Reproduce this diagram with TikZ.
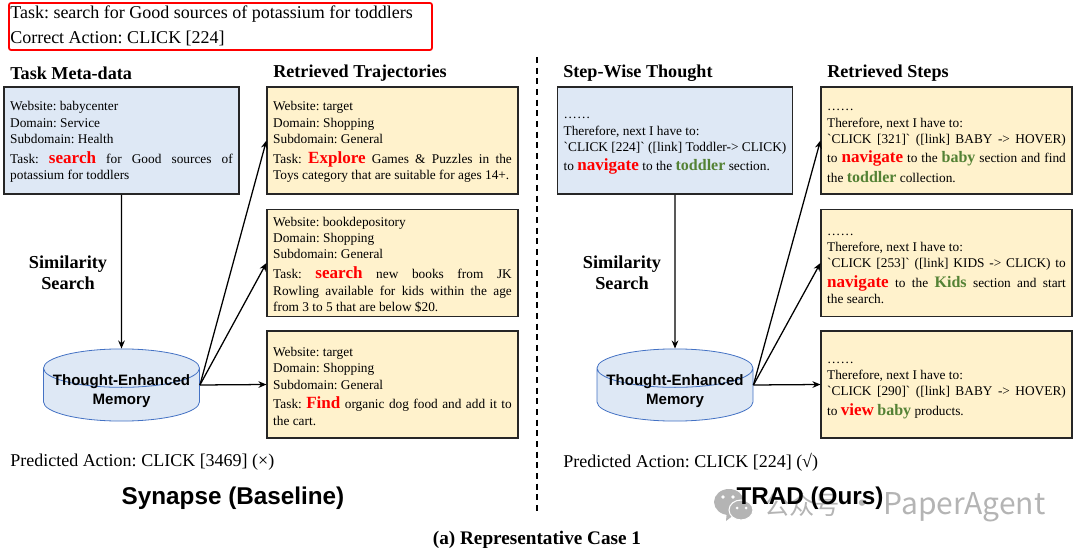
\documentclass[tikz,border=0pt]{standalone}
\usepackage{fontspec}
\setmainfont{Liberation Serif}
\setsansfont{Liberation Sans}
\newfontfamily\cjkwm{Noto Sans CJK SC}
\usetikzlibrary{arrows.meta}
\usetikzlibrary{shapes.geometric}
\definecolor{metablue}{HTML}{DEE8F5}
\definecolor{trajyellow}{HTML}{FFF2CC}
\definecolor{cylblue}{HTML}{4472C4}
\definecolor{leafgreen}{HTML}{548235}
\definecolor{markgrey}{HTML}{B4B4B4}
\frenchspacing
\hyphenpenalty=10000
\exhyphenpenalty=10000
\tolerance=9999
\lineskip=1pt
\newcommand{\redw}[1]{\textcolor{red}{\fontsize{12.8}{12.3}\selectfont\bfseries #1}}
\newcommand{\grw}[1]{\rule{0pt}{11.3pt}\textcolor{leafgreen}{\fontsize{12}{12.3}\selectfont\bfseries #1}}
\newcommand{\bq}{\textasciigrave{}}
\newcommand{\toprow}{\rule{0pt}{9.5pt}}
\newcommand{\cylspan}{\phantom{\fontsize{11.3}{14}\selectfont\sffamily\bfseries Thought-Enhanced}}
\tikzset{
    bodybox/.style={draw=black!85,line width=1.1pt,inner xsep=4.5pt,inner ysep=0pt,align=justify,
        font=\fontsize{10}{12.3}\selectfont},
    metabox/.style={bodybox,fill=metablue,text width=167pt,minimum height=80.5pt},
    trajbox/.style={bodybox,fill=trajyellow,text width=179pt,minimum height=80.5pt},
    stepbox/.style={bodybox,fill=trajyellow,text width=179pt,minimum height=80.5pt},
    memcyl/.style={cylinder,shape border rotate=90,aspect=0.28,draw=cylblue,fill=metablue,line width=0.6pt,
        minimum width=117pt,minimum height=45.75pt,inner sep=0pt,anchor=shape center},
    memtxt/.style={align=center,inner sep=0pt,font=\fontsize{11.3}{14.2}\selectfont\sffamily\bfseries},
    headtxt/.style={anchor=west,inner sep=0pt,font=\fontsize{13.6}{16}\selectfont\bfseries},
    plaintxt/.style={anchor=west,inner sep=0pt,font=\fontsize{13.5}{16}\selectfont},
    simtxt/.style={align=center,inner sep=0pt,font=\fontsize{13.7}{15.8}\selectfont\bfseries},
    sidetxt/.style={inner sep=0pt,font=\fontsize{18.2}{20}\selectfont\sffamily\bfseries},
    flow/.style={-{Stealth[length=6pt,width=5pt]},black,line width=0.95pt},
}
\begin{document}
\begin{tikzpicture}[x=0.75pt,y=-0.75pt]
    \useasboundingbox (0,0) rectangle (1080,548);

    % watermark goes under the title
    \fill[markgrey] (729,502) ellipse (15 and 13);
    \fill[markgrey] (735,514) -- (726,521) -- (727,510) -- cycle;
    \filldraw[markgrey,draw=white,line width=0.8pt] (741,510) ellipse (12 and 10);
    \fill[white] (723,497) circle (1.8) (733,497) circle (1.8) (737,508) circle (1.5) (746,508) circle (1.5);
    \node (wmark) [anchor=west,inner sep=0pt,text=markgrey,font=\fontsize{22.5}{24}\selectfont\cjkwm] at (764,507) {{\fontsize{19}{24}\selectfont 公众号} · PaperAgent};

    \node (taskA) [plaintxt] at (10,14) {Task: search for Good sources of potassium for toddlers};
    \node (taskB) [plaintxt] at (10,38.5) {Correct Action: CLICK [224]};
    \draw[red,line width=1.3pt,rounded corners=1.5pt] (9,3) rectangle (432,50);

    \node (headA) [headtxt] at (10,73) {Task Meta-data};
    \node (headB) [headtxt] at (273,73) {Retrieved Trajectories};
    \node (headC) [headtxt] at (563,73) {Step-Wise Thought};
    \node (headD) [headtxt] at (827,73) {Retrieved Steps};

    \node (meta) [metabox] at (121.5,140.5) {\toprow Website: babycenter\\Domain: Service\\Subdomain: Health\\[2.5pt]
        Task: \redw{search} for Good sources of potassium for toddlers};
    \node (trajA) [trajbox] at (392.5,140.5) {\toprow Website: target\\Domain: Shopping\\Subdomain: General\\[2.5pt]
        Task: \redw{Explore} Games \& Puzzles in the Toys category that are suitable for ages 14+.};
    \node (trajB) [trajbox] at (392.5,263) {\toprow Website: bookdepository\\Domain: Shopping\\Subdomain: General\\[2.5pt]
        Task: \redw{search} new books from JK\linebreak Rowling available for kids within the age\linebreak from 3 to 5 that are below \$20.};
    \node (trajC) [trajbox] at (392.5,384.5) {\toprow Website: target\\Domain: Shopping\\Subdomain: General\\[2.5pt]
        Task: \redw{Find} organic dog food and add it to the cart.};

    \node (thought) [metabox] at (675,140.5) {\toprow ……\\Therefore, next I have to:\\
        \bq CLICK [224]\bq{} ([link] Toddler-> CLICK) to \redw{navigate} to the \grw{toddler} section.};
    \node (stepA) [stepbox] at (946.5,140.5) {\toprow ……\\Therefore, next I have to:\\
        \bq CLICK [321]\bq{} ([link] BABY -> HOVER)\linebreak to \redw{navigate} to the \grw{baby} section and find the \grw{toddler} collection.};
    \node (stepB) [stepbox] at (946.5,263) {\toprow ……\\Therefore, next I have to:\\
        \bq CLICK [253]\bq{} ([link] KIDS -> CLICK) to \redw{navigate} to the \grw{Kids} section and start\linebreak the search.};
    \node (stepC) [stepbox] at (946.5,384.5) {\toprow ……\\Therefore, next I have to:\\
        \bq CLICK [290]\bq{} ([link] BABY -> HOVER)\linebreak to \redw{view} \grw{baby} products.};

    \node (memA) [memcyl] at (121.5,385) {\cylspan};
    \node (memB) [memcyl] at (675,385) {\cylspan};
    \node (memAtxt) [memtxt] at (121.5,391.5) {Thought-Enhanced\\Memory};
    \node (memBtxt) [memtxt] at (675,391.5) {Thought-Enhanced\\Memory};

    \node (simA) [simtxt] at (68,272.5) {Similarity\\Search};
    \node (simB) [simtxt] at (622,272.5) {Similarity\\Search};

    \node (predA) [plaintxt] at (10,462) {Predicted Action: CLICK [3469] (×)};
    \node (predB) [plaintxt] at (563,462) {Predicted Action: CLICK [224] (√)};

    \node (nameA) [sidetxt] at (233,498) {Synapse (Baseline)};
    \node (nameB) [sidetxt] at (810,498) {TRAD (Ours)};
    \node (caption) [inner sep=0pt,font=\fontsize{14.4}{16}\selectfont\bfseries] at (537,540) {(a) Representative Case 1};

    \coordinate (cutT) at (537,57);
    \coordinate (cutB) at (537,513);
    \draw[black,line width=0.9pt,dash pattern=on 4.5pt off 3.5pt] (cutT) -- (cutB);

    \path
    (meta) [flow] edge (memA.north)
    (memA.shape center -| memA.east) [flow] edge (trajA.west)
    (memA.shape center -| memA.east) [flow] edge (trajB.west)
    (memA.shape center -| memA.east) [flow] edge (trajC.west)
    (thought) [flow] edge (memB.north)
    (memB.shape center -| memB.east) [flow] edge (stepA.west)
    (memB.shape center -| memB.east) [flow] edge (stepB.west)
    (memB.shape center -| memB.east) [flow] edge (stepC.west);
\end{tikzpicture}
\end{document}
